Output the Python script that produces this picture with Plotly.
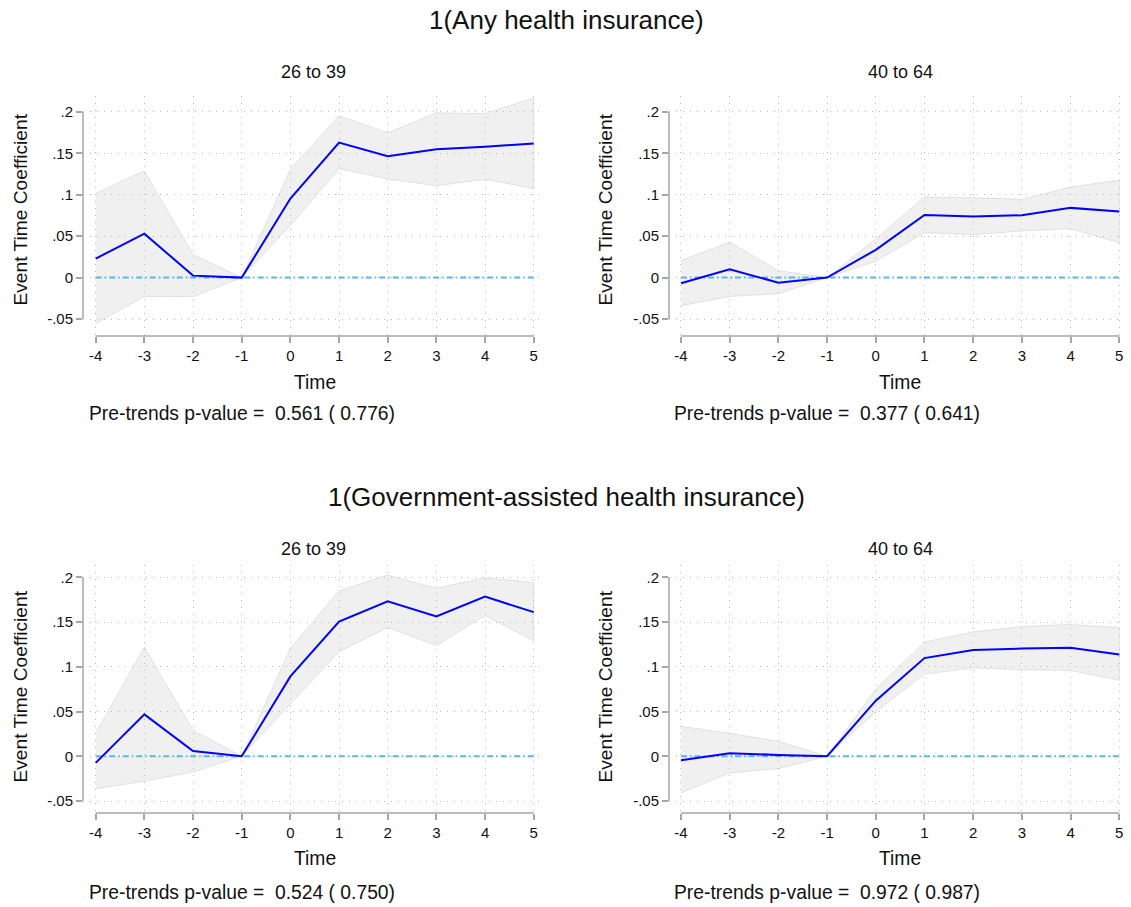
import plotly.graph_objects as go

W, H = 1131, 907

time = [-4, -3, -2, -1, 0, 1, 2, 3, 4, 5]
y_tickvals = [-0.05, 0, 0.05, 0.1, 0.15, 0.2]
y_ticktext = ["-.05", "0", ".05", ".1", ".15", ".2"]

# 1(Any health insurance), 26 to 39
any_2639_coef = [0.023, 0.053, 0.0024, 0.0, 0.0955, 0.163, 0.1466, 0.155, 0.158, 0.162]
any_2639_hi = [0.102, 0.129, 0.028, 0.0, 0.131, 0.1955, 0.175, 0.199, 0.198, 0.217]
any_2639_lo = [-0.0555, -0.0227, -0.023, 0.0, 0.063, 0.1316, 0.119, 0.111, 0.1186, 0.1077]

# 1(Any health insurance), 40 to 64
any_4064_coef = [-0.0069, 0.0101, -0.0061, 0.0, 0.0336, 0.0757, 0.0737, 0.0753, 0.0842, 0.0798]
any_4064_hi = [0.0206, 0.0429, 0.0085, 0.0, 0.0466, 0.0976, 0.0964, 0.0947, 0.1093, 0.1178]
any_4064_lo = [-0.034, -0.0227, -0.0194, 0.0, 0.0198, 0.0543, 0.0518, 0.0563, 0.0591, 0.0421]

# 1(Government-assisted health insurance), 26 to 39
gov_2639_coef = [-0.0074, 0.0468, 0.0059, 0.0, 0.0892, 0.1506, 0.1732, 0.1561, 0.1784, 0.161]
gov_2639_hi = [0.026, 0.1219, 0.029, 0.0, 0.1208, 0.1848, 0.2026, 0.1877, 0.1996, 0.194]
gov_2639_lo = [-0.0364, -0.0279, -0.0175, 0.0, 0.0587, 0.1167, 0.1439, 0.1238, 0.1572, 0.129]

# 1(Government-assisted health insurance), 40 to 64
gov_4064_coef = [-0.0045, 0.0033, 0.0015, 0.0, 0.0621, 0.1097, 0.1186, 0.1204, 0.1212, 0.1138]
gov_4064_hi = [0.0335, 0.0257, 0.0167, 0.0, 0.0751, 0.1275, 0.139, 0.145, 0.1472, 0.1439]
gov_4064_lo = [-0.0409, -0.0186, -0.0138, 0.0, 0.0498, 0.0918, 0.0985, 0.0967, 0.0959, 0.0848]

section_titles = ["1(Any health insurance)", "1(Government-assisted health insurance)"]
age_groups = ["26 to 39", "40 to 64"]
pretrend_texts = [
    "Pre-trends p-value =  0.561 ( 0.776)",
    "Pre-trends p-value =  0.377 ( 0.641)",
    "Pre-trends p-value =  0.524 ( 0.750)",
    "Pre-trends p-value =  0.972 ( 0.987)",
]

panels = [
    (any_2639_coef, any_2639_lo, any_2639_hi),
    (any_4064_coef, any_4064_lo, any_4064_hi),
    (gov_2639_coef, gov_2639_lo, gov_2639_hi),
    (gov_4064_coef, gov_4064_lo, gov_4064_hi),
]

FONT = "Liberation Sans, Arial, Helvetica, sans-serif"
TXT = "#111111"
AXC = "#a6a6a6"

# pixel layout of each panel
geo = [
    dict(l=83, r=540, t=96, b=336, xr=[-4.261, 5.129], yr=[-0.0705, 0.2193],
         tx=314, ty=72, timex=314.7, timey=382, ylx=19.6, yly=210, px=86.7, py=413),
    dict(l=669, r=1124, t=96, b=336, xr=[-4.246, 5.097], yr=[-0.0705, 0.2193],
         tx=900, ty=72, timex=900, timey=382, ylx=604.6, yly=210, px=672.4, py=413),
    dict(l=83, r=540, t=565, b=813, xr=[-4.261, 5.129], yr=[-0.0634, 0.2137],
         tx=314, ty=549, timex=314.7, timey=858, ylx=19.6, yly=687, px=86.7, py=892),
    dict(l=669, r=1124, t=565, b=813, xr=[-4.246, 5.097], yr=[-0.0634, 0.2137],
         tx=900, ty=549, timex=900, timey=858, ylx=604.6, yly=687, px=672.4, py=892),
]


def fx(p):
    return p / W


def fy(p):
    return 1 - p / H


fig = go.Figure()
annotations = []
shapes = []
layout = {}

for i, ((coef, lo, hi), g) in enumerate(zip(panels, geo)):
    n = "" if i == 0 else str(i + 1)
    xa, ya = "x" + n, "y" + n
    fig.add_trace(go.Scatter(
        x=time + time[::-1], y=hi + lo[::-1], xaxis=xa, yaxis=ya,
        fill="toself", fillcolor="rgba(185,185,185,0.22)",
        line=dict(color="rgba(185,185,185,0.35)", width=1),
        mode="lines", hoverinfo="skip", showlegend=False))
    fig.add_trace(go.Scatter(
        x=time, y=[0 * v for v in coef], xaxis=xa, yaxis=ya, mode="lines",
        line=dict(color="#58b6e8", width=2, dash="6px,3px,1.5px,3px"),
        showlegend=False))
    fig.add_trace(go.Scatter(
        x=time, y=coef, xaxis=xa, yaxis=ya, mode="lines",
        line=dict(color="#0000ff", width=2), showlegend=False))

    layout["xaxis" + n] = dict(
        domain=[fx(g["l"]), fx(g["r"])], range=g["xr"], anchor=ya,
        tickmode="array", tickvals=time, ticktext=[str(t) for t in time],
        ticks="outside", ticklen=6, tickwidth=1.5, tickcolor=AXC,
        showline=False, zeroline=False,
        showgrid=True, gridcolor="#b9b9b9", gridwidth=1, griddash="1px,6px",
        tickfont=dict(family=FONT, size=15, color=TXT), fixedrange=True)
    layout["yaxis" + n] = dict(
        domain=[fy(g["b"]), fy(g["t"])], range=g["yr"], anchor=xa,
        tickmode="array", tickvals=y_tickvals, ticktext=y_ticktext,
        ticks="outside", ticklen=6, tickwidth=1.5, tickcolor=AXC,
        showline=False, zeroline=False,
        showgrid=True, gridcolor="#b9b9b9", gridwidth=1, griddash="1px,6px",
        tickfont=dict(family=FONT, size=15, color=TXT), fixedrange=True)

    # axis lines spanning only the tick range (Stata style)
    xr, yr = g["xr"], g["yr"]
    x0f = (time[0] - xr[0]) / (xr[1] - xr[0])
    x1f = (time[-1] - xr[0]) / (xr[1] - xr[0])
    y0f = (y_tickvals[0] - yr[0]) / (yr[1] - yr[0])
    y1f = (y_tickvals[-1] - yr[0]) / (yr[1] - yr[0])
    shapes.append(dict(type="line", xref=xa + " domain", yref=ya + " domain",
                       x0=0, x1=0, y0=y0f, y1=y1f,
                       line=dict(color=AXC, width=1.5), layer="above"))
    shapes.append(dict(type="line", xref=xa + " domain", yref=ya + " domain",
                       x0=x0f, x1=x1f, y0=0, y1=0,
                       line=dict(color=AXC, width=1.5), layer="above"))

    annotations.append(dict(text=age_groups[i % 2], x=fx(g["tx"]), y=fy(g["ty"]),
                            xref="paper", yref="paper", showarrow=False,
                            xanchor="center", yanchor="middle",
                            font=dict(family=FONT, size=18, color=TXT)))
    annotations.append(dict(text="Time", x=fx(g["timex"]), y=fy(g["timey"]),
                            xref="paper", yref="paper", showarrow=False,
                            xanchor="center", yanchor="middle",
                            font=dict(family=FONT, size=19.3, color=TXT)))
    annotations.append(dict(text="Event Time Coefficient", x=fx(g["ylx"]), y=fy(g["yly"]),
                            xref="paper", yref="paper", showarrow=False, textangle=-90,
                            xanchor="center", yanchor="middle",
                            font=dict(family=FONT, size=19.2, color=TXT)))
    annotations.append(dict(text=pretrend_texts[i], x=fx(g["px"]), y=fy(g["py"]),
                            xref="paper", yref="paper", showarrow=False,
                            xanchor="left", yanchor="middle",
                            font=dict(family=FONT, size=19.3, color=TXT)))

for title, ty in zip(section_titles, [20, 497]):
    annotations.append(dict(text=title, x=fx(566), y=fy(ty), xref="paper", yref="paper",
                            showarrow=False, xanchor="center", yanchor="middle",
                            font=dict(family=FONT, size=26, color=TXT)))

fig.update_layout(
    width=W, height=H, margin=dict(l=0, r=0, t=0, b=0),
    paper_bgcolor="white", plot_bgcolor="white",
    showlegend=False, annotations=annotations, shapes=shapes, **layout)

fig.write_html("out.html")
